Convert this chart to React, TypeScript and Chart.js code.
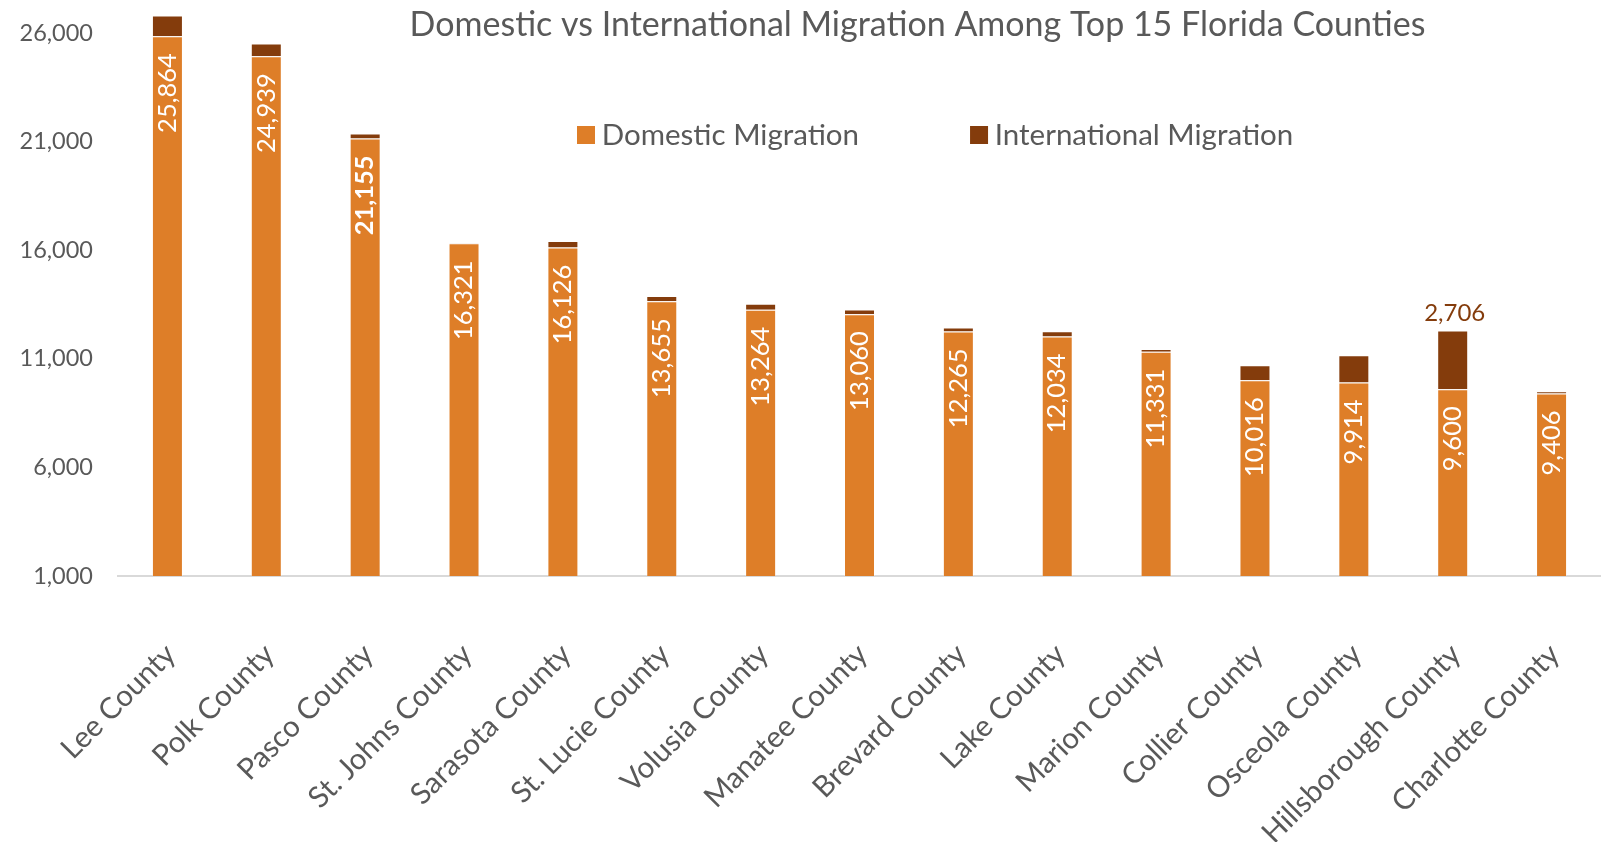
import React, { useEffect, useRef } from "react";
import { Chart, registerables } from "chart.js";

Chart.register(...registerables);

const chartTitle = "Domestic vs International Migration Among Top 15 Florida Counties";

const counties = [
  "Lee County",
  "Polk County",
  "Pasco County",
  "St. Johns County",
  "Sarasota County",
  "St. Lucie County",
  "Volusia County",
  "Manatee County",
  "Brevard County",
  "Lake County",
  "Marion County",
  "Collier County",
  "Osceola County",
  "Hillsborough County",
  "Charlotte County",
];

const domesticMigration = [
  25864, 24939, 21155, 16321, 16126, 13655, 13264, 13060, 12265, 12034, 11331, 10016, 9914, 9600, 9406,
];

const internationalMigration = [
  950, 585, 230, 35, 305, 246, 276, 212, 184, 235, 123, 690, 1250, 2706, 105,
];

const yTickValues = [1000, 6000, 11000, 16000, 21000, 26000];
const yMin = 1000;
const yMax = 27000;

const boldDomesticLabels = ["Pasco County"];
const labelledInternational = ["Hillsborough County"];

const FONT = "Lato";
const TEXT = "#595959";
const DOMESTIC = "#DE7E28";
const INTL = "#843C0C";
const BAR_EDGE = "rgba(255,255,255,0.25)";

const fmt = (v: number) => Number(v).toLocaleString("en-US");

const barLabels = {
  id: "barLabels",
  afterDatasetsDraw(chart: any) {
    const ctx = chart.ctx;
    const dom = chart.getDatasetMeta(0);
    const intl = chart.getDatasetMeta(1);
    ctx.save();
    dom.data.forEach((bar: any, i: number) => {
      const bold = boldDomesticLabels.includes(counties[i]);
      ctx.save();
      ctx.translate(bar.x, bar.y + 17);
      ctx.rotate(-Math.PI / 2);
      ctx.font = `${bold ? "bold " : ""}25.5px ${FONT}`;
      ctx.fillStyle = "#FFFFFF";
      ctx.textAlign = "right";
      ctx.textBaseline = "middle";
      ctx.fillText(fmt(domesticMigration[i]), 0, 0);
      ctx.restore();
    });
    intl.data.forEach((bar: any, i: number) => {
      if (!labelledInternational.includes(counties[i])) return;
      ctx.font = `24px ${FONT}`;
      ctx.fillStyle = INTL;
      ctx.textAlign = "center";
      ctx.textBaseline = "alphabetic";
      ctx.fillText(fmt(internationalMigration[i]), bar.x + 2, bar.y - 10);
    });
    ctx.restore();
  },
};

const LEGEND_PAD = 119;
const LEGEND_X = 585;
const LEGEND_TOP = 1.25;
const TITLE_CENTER = 917.5;

// The legend and title sit over the plot area, as in the original: move their boxes after layout.
const placeHeader = {
  id: "placeHeader",
  afterLayout(chart: any) {
    const t = chart.titleBlock;
    if (t) {
      t.left = 2 * TITLE_CENTER - t.right;
    }
    const lg = chart.legend;
    if (lg) {
      lg.left = LEGEND_X - LEGEND_PAD;
      lg.right = chart.width;
      lg.top = LEGEND_TOP;
      lg.bottom = chart.chartArea.bottom;
    }
  },
};

export default function App() {
  const canvasRef = useRef<HTMLCanvasElement | null>(null);

  useEffect(() => {
    if (!canvasRef.current) return;
    const chart = new Chart(canvasRef.current, {
      type: "bar",
      data: {
        labels: counties,
        datasets: [
          {
            label: "Domestic Migration",
            data: domesticMigration,
            backgroundColor: DOMESTIC,
            borderColor: BAR_EDGE,
            borderWidth: 1,
            categoryPercentage: 1,
            barPercentage: 0.3135,
            clip: 0,
          } as any,
          {
            label: "International Migration",
            data: internationalMigration,
            backgroundColor: INTL,
            borderColor: BAR_EDGE,
            borderWidth: 1,
            categoryPercentage: 1,
            barPercentage: 0.3135,
            clip: 0,
          } as any,
        ],
      },
      options: {
        animation: false,
        responsive: true,
        maintainAspectRatio: false,
        layout: { padding: 0 },
        plugins: {
          title: {
            display: true,
            text: chartTitle,
            color: TEXT,
            font: { family: FONT, size: 34, weight: "normal" },
            padding: { top: 4.3, bottom: -33.6 },
          },
          legend: {
            position: "top",
            align: "start",
            maxHeight: 0.001,
            labels: {
              font: { family: FONT, size: 29.5 },
              color: TEXT,
              boxWidth: 2,
              boxHeight: 2,
              padding: LEGEND_PAD,
              generateLabels: (c: any) =>
                c.data.datasets.map((ds: any, i: number) => ({
                  text: ds.label,
                  fillStyle: ds.backgroundColor,
                  strokeStyle: ds.backgroundColor,
                  lineWidth: 16,
                  lineJoin: "miter",
                  hidden: false,
                  datasetIndex: i,
                  fontColor: TEXT,
                })),
            },
          } as any,
          tooltip: { enabled: false },
        },
        scales: {
          x: {
            stacked: true,
            offset: true,
            grid: { display: false, drawTicks: false, tickLength: 0 },
            border: { display: true, color: "#D9D9D9", width: 2 },
            ticks: {
              autoSkip: false,
              maxRotation: 45,
              minRotation: 45,
              padding: 61,
              labelOffset: 3,
              color: TEXT,
              font: { family: FONT, size: 29.5 },
            },
            afterFit(s: any) {
              s.height = 266;
              s.paddingLeft = 0;
              s.paddingRight = 0;
            },
          } as any,
          y: {
            stacked: true,
            min: yMin,
            max: yMax,
            grid: { display: false, drawTicks: false, tickLength: 0 },
            border: { display: false },
            afterBuildTicks(s: any) {
              s.ticks = yTickValues.map((v) => ({ value: v }));
            },
            ticks: {
              padding: 25,
              color: TEXT,
              font: { family: FONT, size: 23.5 },
              callback: (v: any) => fmt(v),
            },
            afterFit(s: any) {
              s.width = 118;
              s.paddingTop = 0;
              s.paddingBottom = 0;
            },
          } as any,
        },
      },
      plugins: [barLabels, placeHeader],
    });
    return () => chart.destroy();
  }, []);

  return (
    <div style={{ position: "absolute", left: 0, top: 0, width: 1601, height: 842, background: "#fff" }}>
      <canvas ref={canvasRef} />
    </div>
  );
}
